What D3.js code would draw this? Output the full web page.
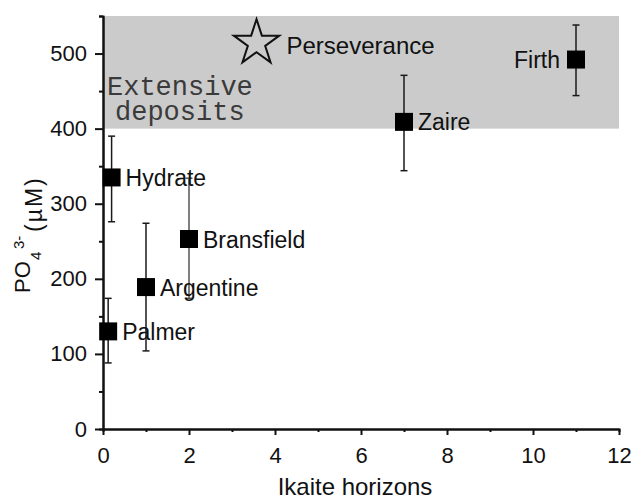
<!DOCTYPE html>
<html>
<head>
<meta charset="utf-8" />
<title>Ikaite horizons</title>
<style>
  body { margin: 0; background: #fff; }
  svg text { font-family: Arial, "Liberation Sans", sans-serif; fill: #111; }
</style>
</head>
<body>
<svg width="631" height="499"></svg>
<script src="https://cdn.jsdelivr.net/npm/d3@7"></script>
<script>
// data
var sites = ['Palmer', 'Argentine', 'Bransfield', 'Hydrate', 'Zaire', 'Firth'];
var horizons = [0.12, 1, 2, 0.2, 7, 11];
var po4 = [130, 189, 253, 335, 409, 492];
var errLow = [88, 104, 174, 276, 344, 444];
var errHigh = [174, 274, 334, 390, 471, 538];
var labelSide = ['right', 'right', 'right', 'right', 'right', 'left'];

var starSite = 'Perseverance';
var starX = 3.57;
var starY = 514;

var shadeRange = [400, 550];
var shadeText = ['Extensive', 'deposits'];

var xMajor = [0, 2, 4, 6, 8, 10, 12];
var xMinor = [1, 3, 5, 7, 9, 11];
var yMajor = [0, 100, 200, 300, 400, 500];
var yMinor = [50, 150, 250, 350, 450, 550];

var points = sites.map(function (s, i) {
    return { nom: s, x: horizons[i], y: po4[i], lo: errLow[i], hi: errHigh[i], side: labelSide[i] };
});

var svg = d3.select('svg');
var mLeft = 103, mRight = 619, mTop = 16, mBottom = 429;

var x = d3.scaleLinear().domain([0, 12]).range([mLeft, mRight]);
var y = d3.scaleLinear().domain([0, 550]).range([mBottom, mTop]);

// shaded band
svg.append('rect')
    .attr('x', x(0))
    .attr('y', y(shadeRange[1]))
    .attr('width', x(12) - x(0))
    .attr('height', y(shadeRange[0]) - y(shadeRange[1]))
    .attr('fill', '#cbcbcb');

svg.append('text')
    .attr('x', 107).attr('y', 95)
    .style('font-family', '"Liberation Mono", "Courier New", monospace')
    .style('font-size', '27px')
    .style('fill', '#3a3a3a')
    .text(shadeText[0]);
svg.append('text')
    .attr('x', 115).attr('y', 120)
    .style('font-family', '"Liberation Mono", "Courier New", monospace')
    .style('font-size', '27px')
    .style('fill', '#3a3a3a')
    .text(shadeText[1]);

// axes
function styleAxis(g) {
    g.select('.domain').attr('stroke', '#111').attr('stroke-width', 2);
    g.selectAll('.tick line').attr('stroke', '#111').attr('stroke-width', 2);
    g.selectAll('.tick text').style('font-size', '22px').attr('fill', '#111');
}

svg.append('g')
    .attr('transform', 'translate(0,' + mBottom + ')')
    .call(d3.axisBottom(x).tickValues(xMinor).tickSize(3).tickFormat(''))
    .call(styleAxis);
svg.append('g')
    .attr('transform', 'translate(0,' + mBottom + ')')
    .call(d3.axisBottom(x).tickValues(xMajor).tickSize(6).tickPadding(12).tickSizeOuter(0))
    .call(styleAxis);

svg.append('g')
    .attr('transform', 'translate(' + mLeft + ',0)')
    .call(d3.axisLeft(y).tickValues(yMinor).tickSize(4).tickFormat(''))
    .call(styleAxis);
svg.append('g')
    .attr('transform', 'translate(' + mLeft + ',0)')
    .call(d3.axisLeft(y).tickValues(yMajor).tickSize(8).tickPadding(8).tickSizeOuter(0))
    .call(styleAxis);

// axis titles
svg.append('text')
    .attr('x', 355).attr('y', 495)
    .attr('text-anchor', 'middle')
    .style('font-size', '24px')
    .text('Ikaite horizons');

var yt = svg.append('text')
    .attr('transform', 'rotate(-90)');
yt.append('tspan').attr('x', -293).attr('y', 30).style('font-size', '22px').text('PO');
yt.append('tspan').attr('x', -260).attr('y', 41).style('font-size', '15px').text('4');
yt.append('tspan').attr('x', -249).attr('y', 24).style('font-size', '15px').text('3-');
yt.append('tspan').attr('x', -232).attr('y', 42).style('font-size', '23px')
    .style('letter-spacing', '2px').text('(\u00b5M)');

// error bars
var bars = svg.append('g').selectAll('g').data(points).enter().append('g')
    .attr('stroke', function (d) { return d.nom === 'Bransfield' ? '#555' : '#1a1a1a'; })
    .attr('stroke-width', 1.5);
bars.append('line')
    .attr('x1', function (d) { return x(d.x); })
    .attr('x2', function (d) { return x(d.x); })
    .attr('y1', function (d) { return y(d.lo); })
    .attr('y2', function (d) { return y(d.hi); });
bars.append('line')
    .attr('x1', function (d) { return x(d.x) - 3.5; })
    .attr('x2', function (d) { return x(d.x) + 3.5; })
    .attr('y1', function (d) { return y(d.lo); })
    .attr('y2', function (d) { return y(d.lo); });
bars.append('line')
    .attr('x1', function (d) { return x(d.x) - 3.5; })
    .attr('x2', function (d) { return x(d.x) + 3.5; })
    .attr('y1', function (d) { return y(d.hi); })
    .attr('y2', function (d) { return y(d.hi); });

// square markers
svg.append('g').selectAll('path').data(points).enter().append('path')
    .attr('d', d3.symbol(d3.symbolSquare, 324))
    .attr('transform', function (d) { return 'translate(' + x(d.x) + ',' + y(d.y) + ')'; })
    .attr('fill', '#000');

svg.append('g').selectAll('text').data(points).enter().append('text')
    .attr('x', function (d) { return d.side === 'left' ? x(d.x) - 16 : x(d.x) + 14; })
    .attr('y', function (d) { return y(d.y); })
    .attr('dy', '0.37em')
    .attr('text-anchor', function (d) { return d.side === 'left' ? 'end' : 'start'; })
    .style('font-size', '23px')
    .text(function (d) { return d.nom; });

// open star
svg.append('path')
    .attr('d', d3.symbol(d3.symbolStar, 640))
    .attr('transform', 'translate(' + x(starX) + ',' + y(starY) + ')')
    .attr('fill', 'none')
    .attr('stroke', '#111')
    .attr('stroke-width', 2);
svg.append('text')
    .attr('x', x(starX) + 30)
    .attr('y', y(starY))
    .attr('dy', '0.45em')
    .style('font-size', '24px')
    .text(starSite);
</script>
</body>
</html>
